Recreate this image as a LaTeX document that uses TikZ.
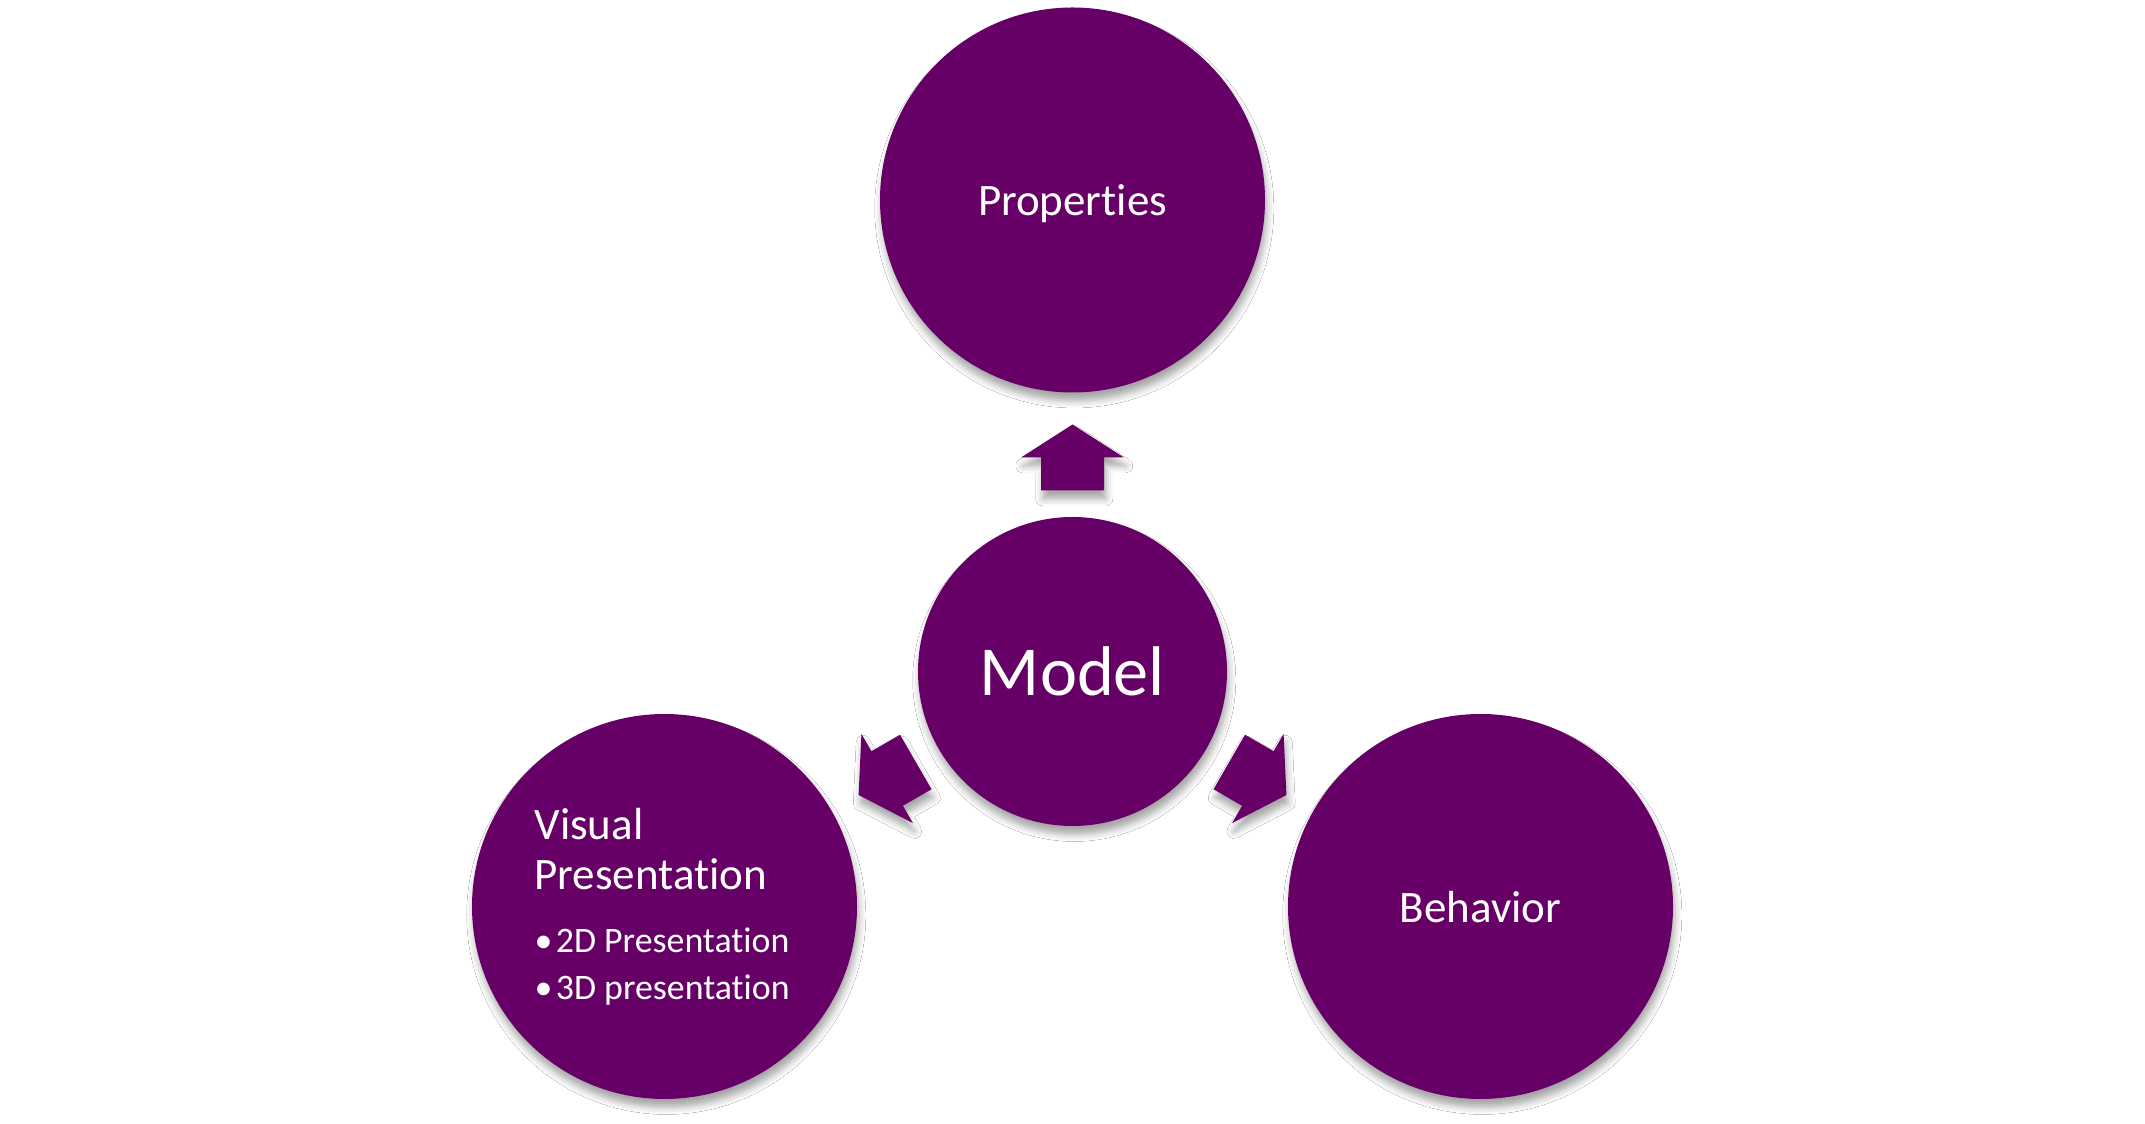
\documentclass[tikz,border=0pt]{standalone}
\usepackage{fontspec}
\setmainfont{Carlito}[Ligatures=NoCommon]
\usetikzlibrary{shadows.blur}
\definecolor{plum}{RGB}{102,0,102}
\tikzset{
  softshadow/.style={blur shadow={shadow xshift=0.5pt,shadow yshift=-2.4pt,shadow blur radius=2pt,shadow opacity=35}},
  bub/.style={circle,fill=plum,text=white,inner sep=0pt,minimum size=3.85cm,softshadow},
  bubtext/.style={font=\fontsize{12.8pt}{15pt}\selectfont,text depth=0pt},
  blockarrow/.style={fill=plum,softshadow}
}
\begin{document}
\begin{tikzpicture}[scale=1.0]
\useasboundingbox[fill=white] (0,0) rectangle (21.45,11.23);
\node[bub,minimum size=3.09cm,font=\fontsize{20pt}{24pt}\selectfont] (model) at (10.725,4.515) {Model};
\node[bub,bubtext] (prop) at (10.725,9.23) {Properties};
\node[bub,bubtext] (beh) at (14.805,2.165) {Behavior};
\node[bub] (vis) at (6.645,2.165) {\parbox{2.6cm}{\raggedright
  \fontsize{12.8pt}{14.2pt}\selectfont Visual\\Presentation\par\vspace{4.5pt}
  \fontsize{10.2pt}{13.4pt}\selectfont •\hspace{1pt}2D Presentation\\•\hspace{1pt}3D presentation}};
%block arrows out of the model
\foreach \a in {90,210,330}
  \fill[blockarrow,shift={(model.center)},rotate=\a-90] (-0.315,1.81) -- (0.315,1.81) -- (0.315,2.14)
    -- (0.515,2.14) -- (0,2.47) -- (-0.515,2.14) -- (-0.315,2.14) -- cycle;
\end{tikzpicture}
\end{document}
